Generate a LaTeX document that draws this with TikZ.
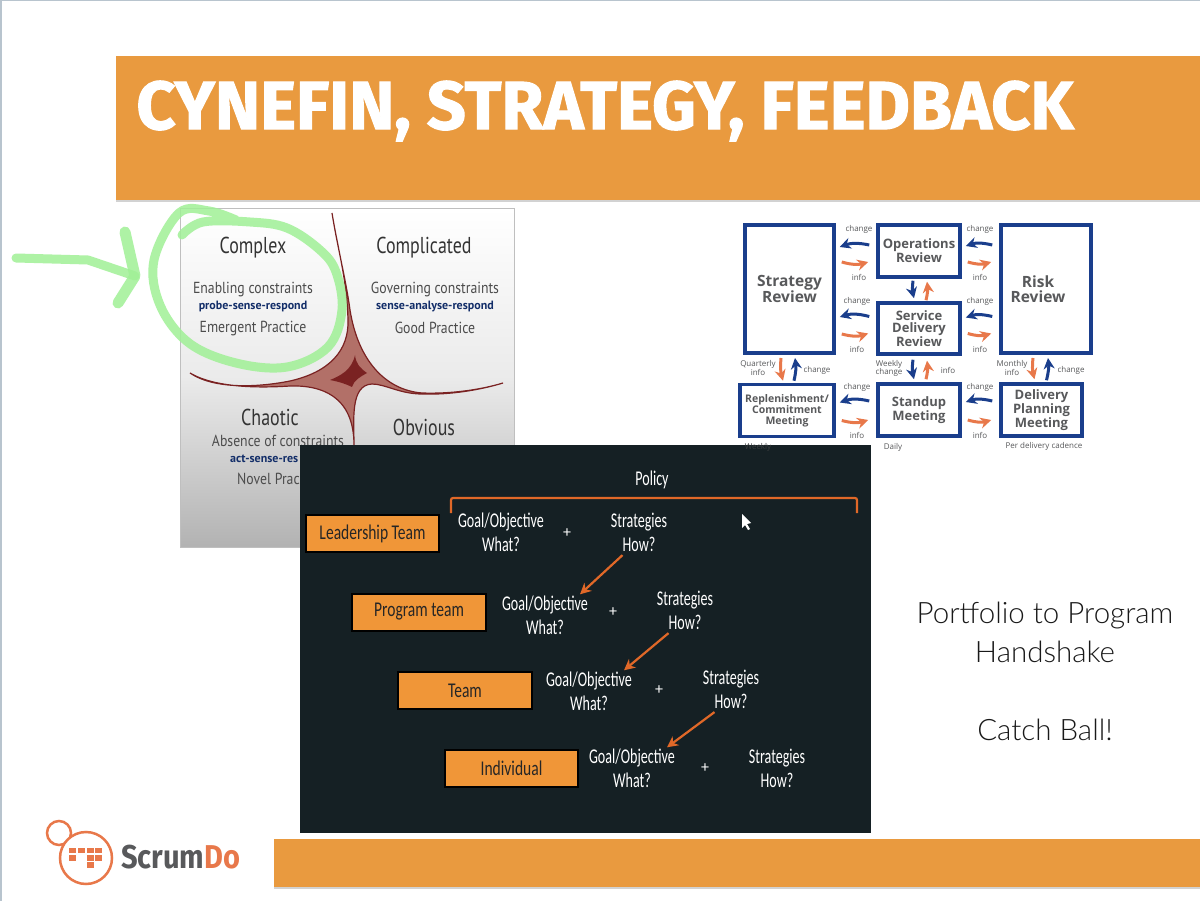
\documentclass[tikz,border=0pt]{standalone}
\usepackage{xcolor}
\usepackage{fontspec}
\setmainfont{Open Sans}
\newfontfamily\titlefont[BoldFeatures={FakeBold=1.6}]{Fira Sans}
\newfontfamily\brandfont{Fira Sans}
\newfontfamily\handfont{PT Sans}
\newfontfamily\panelfont{Carlito}
\newfontfamily\notefont{Lato Light}
\usepackage{tikz}
\usetikzlibrary{arrows.meta,positioning,shadows}
\definecolor{bannerorange}{RGB}{233,154,63}
\definecolor{panelblack}{RGB}{21,32,36}
\definecolor{boxorange}{RGB}{240,150,56}
\definecolor{rustorange}{RGB}{224,104,40}
\definecolor{reviewblue}{RGB}{26,62,140}
\definecolor{swooshorange}{RGB}{232,120,74}
\definecolor{labelgray}{RGB}{88,89,91}
\definecolor{scribblegreen}{RGB}{160,240,150}
\definecolor{cuspred}{RGB}{122,34,34}
\definecolor{cuspfill}{RGB}{178,112,104}
\definecolor{edgegray}{RGB}{184,196,206}
\newcommand{\pxfont}[2]{\fontsize{#1}{#2}\selectfont}
\tikzset{
  banner/.style={rectangle, fill=bannerorange, inner sep=0pt, drop shadow={shadow xshift=0pt, shadow yshift=-2pt, opacity=0.35}},
  reviewbox/.style={rectangle, draw=reviewblue, line width=3.5pt, fill=white, align=center, inner sep=0pt, text=labelgray, font=\pxfont{13}{12}\bfseries},
  smalllabel/.style={inner sep=0pt, align=center, text=labelgray, font=\pxfont{8}{8}},
  chgarrow/.style={-{Stealth[length=11pt,width=11pt]}, draw=reviewblue, line width=3pt},
  infoarrow/.style={-{Stealth[length=11pt,width=11pt]}, draw=swooshorange, line width=3pt},
  levelbox/.style={rectangle, draw=black, line width=2pt, fill=boxorange, inner sep=0pt, minimum width=180pt, minimum height=37pt, text=black!85, font=\panelfont\pxfont{21}{21}, xscale=0.74, transform shape},
  paneltext/.style={inner sep=0pt, text=white, text height=16pt, text depth=3pt, font=\panelfont\pxfont{21}{21}, xscale=0.67, transform shape},
  plusmark/.style={inner sep=0pt, text=white, font=\panelfont\pxfont{16}{16}},
  policyarrow/.style={-{Stealth[length=11pt,width=11pt]}, draw=rustorange, line width=2.2pt},
  cardhead/.style={inner sep=0pt, yshift=-2pt, text=black!80, font=\handfont\pxfont{23}{23}, xscale=0.78, transform shape},
  cardtext/.style={inner sep=0pt, yshift=-2pt, text=black!70, font=\handfont\pxfont{16}{16}, xscale=0.86, transform shape},
  cardcue/.style={inner sep=0pt, yshift=-1pt, text=reviewblue!75!black, font=\handfont\bfseries\pxfont{12}{12}},
  scribble/.style={draw=scribblegreen, line width=9pt, line cap=round, line join=round, opacity=0.85},
  tile/.style={fill=swooshorange, draw=none},
  notetext/.style={inner sep=0pt, align=center, text=black!90, font=\notefont\pxfont{29.5}{39}},
}
\begin{document}
\begin{tikzpicture}[x=1pt, y=-1pt, node distance=5pt]
  \useasboundingbox (0,0) rectangle (1200,901);
  \fill[white] (0,0) rectangle (1200,901);
  \fill[edgegray] (0,0) rectangle (1200,1.5);
  \fill[edgegray] (0,0) rectangle (2,901);

  % Title and footer bars
  \node[banner, minimum width=1084pt, minimum height=144pt] (titlebar) at (658,128) {};
  \node[banner, minimum width=926pt, minimum height=48pt] (footbar) at (737,863) {};
  \node[inner sep=0pt, text=white, font=\titlefont\bfseries\pxfont{68.2}{68}] (title) at (605,111) {CYNEFIN, STRATEGY, FEEDBACK};

  % Cynefin card
  \node[rectangle, minimum width=334pt, minimum height=339pt, inner sep=0pt, top color=white, bottom color=black!30, middle color=black!8, draw=black!25, line width=0.5pt] (card) at (347,377.5) {};
  \filldraw[draw=cuspred, fill=cuspfill, line width=1.2pt]
    (332,213) .. controls (338,250) and (347,280) .. (348,320)
    .. controls (349,350) and (330,372) .. (290,381)
    .. controls (260,387) and (215,390) .. (190,373)
    .. controls (215,388) and (260,388) .. (290,386)
    .. controls (320,385) and (354,395) .. (354,445)
    .. controls (354,420) and (350,385) .. (372,384)
    .. controls (385,384) and (400,394) .. (422,394)
    .. controls (450,395) and (480,390) .. (503,383)
    .. controls (480,390) and (450,394) .. (422,393)
    .. controls (385,390) and (358,360) .. (350,310)
    .. controls (346,280) and (338,250) .. (332,213) -- cycle;
  \fill[cuspred] (355,355) .. controls (356,364) and (360,368) .. (367,373)
    .. controls (360,377) and (354,380) .. (352,387)
    .. controls (346,384) and (340,382) .. (330,380)
    .. controls (340,376) and (352,370) .. (355,355) -- cycle;
  \node[cardhead] (complex) at (253,246) {Complex};
  \node[cardtext] (enabling) at (253,288) {Enabling constraints};
  \node[cardcue] (probe) at (253,306) {probe-sense-respond};
  \node[cardtext] (emergent) at (253,327) {Emergent Practice};
  \node[cardhead] (complicated) at (424,246) {Complicated};
  \node[cardtext] (governing) at (435,288) {Governing constraints};
  \node[cardcue] (sense) at (435,306) {sense-analyse-respond};
  \node[cardtext] (goodprac) at (435,326) {Good Practice};
  \node[cardhead] (chaotic) at (270,415) {Chaotic};
  \node[cardtext] (absence) at (278,439) {Absence of constraints};
  \node[cardcue, anchor=west] (act) at (230,458) {act-sense-res};
  \node[cardtext, anchor=west] (novel) at (237,477) {Novel Prac};
  \node[cardhead] (obvious) at (424,425) {Obvious};

  % Green marker
  \draw[scribble] plot[smooth, tension=0.6] coordinates {(182,235) (203,222) (250,222) (287,228) (320,250) (336,272) (342,310) (328,347) (287,367) (236,363) (189,343) (160,305) (154,260) (179,213) (209,211) (236,220)};
  \coordinate (markstart) at (16,258);
  \coordinate (marktip) at (135,276);
  \draw[scribble] (markstart) -- (88,260) -- (marktip);
  \draw[scribble, line width=11pt] (125,232) -- (marktip) -- (118,303);

  % Review boxes
  \node[reviewbox, minimum width=89pt, minimum height=128pt, font=\pxfont{15.5}{15}\bfseries] (strategy) at (789.5,289) {Strategy\\Review};
  \node[reviewbox, minimum width=82pt, minimum height=52pt] (ops) at (919,251) {Operations\\Review};
  \node[reviewbox, minimum width=82pt, minimum height=51pt] (service) at (919,328.5) {Service\\Delivery\\Review};
  \node[reviewbox, minimum width=90pt, minimum height=128pt] (risk) at (1046,289) {};
  \node[inner sep=0pt, align=center, text=labelgray, font=\pxfont{15.5}{15}\bfseries] (risktext) at (1038,289) {Risk\\Review};
  \node[reviewbox, minimum width=94pt, minimum height=52pt, font=\pxfont{10.5}{11}\bfseries] (replen) at (787,410.5) {Replenishment/\\Commitment\\Meeting};
  \node[reviewbox, minimum width=82pt, minimum height=52pt] (standup) at (919,410) {Standup\\Meeting};
  \node[reviewbox, minimum width=81pt, minimum height=52pt] (delivery) at (1041.5,410) {Delivery\\Planning\\Meeting};

  % Connections
  \draw[chgarrow] ([shift={(-7,-6)}]ops.west) to[bend right=16] ([shift={(4,-42)}]strategy.east);
  \draw[infoarrow] ([shift={(6,-27)}]strategy.east) to[bend right=16] ([shift={(-8,11)}]ops.west);
  \draw[chgarrow] ([shift={(-7,-6)}]risk.west |- ops.west) to[bend right=16] ([shift={(4,-5)}]ops.east);
  \draw[infoarrow] ([shift={(6,11)}]ops.east) to[bend right=16] ([shift={(-8,11)}]risk.west |- ops.west);
  \draw[chgarrow] ([shift={(-7,-12)}]service.west) to[bend right=16] ([shift={(4,28)}]strategy.east);
  \draw[infoarrow] ([shift={(6,45)}]strategy.east) to[bend right=16] ([shift={(-8,5)}]service.west);
  \draw[chgarrow] ([shift={(-7,-12)}]risk.west |- service.west) to[bend right=16] ([shift={(4,-11)}]service.east);
  \draw[infoarrow] ([shift={(6,5)}]service.east) to[bend right=16] ([shift={(-8,5)}]risk.west |- service.west);
  \draw[chgarrow] ([shift={(-7,-9)}]standup.west) to[bend right=16] ([shift={(4,-8)}]replen.east);
  \draw[infoarrow] ([shift={(6,10)}]replen.east) to[bend right=16] ([shift={(-8,10)}]standup.west);
  \draw[chgarrow] ([shift={(-7,-9)}]delivery.west) to[bend right=16] ([shift={(4,-8)}]standup.east);
  \draw[infoarrow] ([shift={(6,10)}]standup.east) to[bend right=16] ([shift={(-8,10)}]delivery.west);
  \draw[chgarrow] ([shift={(-6,2)}]ops.south) to[bend right=10] ([shift={(-5,-3)}]service.north);
  \draw[infoarrow] ([shift={(7,-1)}]service.north) to[bend right=10] ([shift={(8,3)}]ops.south);
  \draw[chgarrow] ([shift={(-6,4)}]service.south) to[bend right=10] ([shift={(-5,-3)}]standup.north);
  \draw[infoarrow] ([shift={(7,-3)}]standup.north) to[bend right=10] ([shift={(8,5)}]service.south);
  \draw[infoarrow] (781,358) to[bend right=10] ([xshift=-4pt,yshift=2pt]replen.north);
  \draw[chgarrow] ([shift={(7,-2)}]replen.north) to[bend right=10] (795,358);
  \draw[infoarrow] (1033,358) to[bend right=10] ([shift={(-7,-3)}]delivery.north);
  \draw[chgarrow] ([shift={(5,-2)}]delivery.north) to[bend right=10] (1048,358);

  % Arrow labels
  \node[smalllabel] (chga) at (859,229) {change};
  \node[smalllabel] (infoa) at (859,277) {info};
  \node[smalllabel] (chgb) at (980,229) {change};
  \node[smalllabel] (infob) at (980,277) {info};
  \node[smalllabel] (chgc) at (857,301) {change};
  \node[smalllabel] (infoc) at (857,349) {info};
  \node[smalllabel] (chgd) at (980,301) {change};
  \node[smalllabel] (infod) at (980,349) {info};
  \node[smalllabel] (chge) at (857,387) {change};
  \node[smalllabel] (infoe) at (857,435) {info};
  \node[smalllabel] (chgf) at (980,387) {change};
  \node[smalllabel] (infof) at (980,435) {info};
  \node[smalllabel] (quarterly) at (758,368) {Quarterly\\info};
  \node[smalllabel] (chgg) at (817,370) {change};
  \node[smalllabel] (weeklychg) at (889,368) {Weekly\\change};
  \node[smalllabel] (infog) at (948,370) {info};
  \node[smalllabel] (monthly) at (1012,368) {Monthly\\info};
  \node[smalllabel] (chgh) at (1071,370) {change};
  \node[smalllabel] (daily) at (893,447) {Daily};
  \node[smalllabel] (cadence) at (1044,446.5) {Per delivery cadence};

  % Dark panel
  \node[rectangle, fill=panelblack, minimum width=571pt, minimum height=388pt, inner sep=0pt] (panel) at (585.5,639) {};
  \node[smalllabel, text=black!65!panelblack!80!white] (weekly) at (758,447) {Weekly};
  \node[paneltext] (policy) at (652,479) {Policy};
  \coordinate (bracea) at (451,513);
  \coordinate (braceb) at (857,513);
  \draw[draw=rustorange, line width=2.2pt, rounded corners=2pt] (bracea) |- (654,498) -| (braceb);
  \fill[white] (742,514) -- (742,528) -- (745,525) -- (748,530) -- (750,529) -- (747,524) -- (751,523) -- cycle;

  % Leadership row
  \node[levelbox] (leader) at (372.5,533.5) {Leadership Team};
  \node[paneltext] (goala) at (501,521) {Goal/Objective};
  \node[paneltext, below=of goala] (whata) {What?};
  \node[plusmark] (plusa) at (567,533) {+};
  \node[paneltext] (strata) at (639,521) {Strategies};
  \node[paneltext, below=of strata] (howa) {How?};

  % Program row
  \node[levelbox] (program) at (419,612) {Program team};
  \node[paneltext] (goalb) at (545,604) {Goal/Objective};
  \node[paneltext, below=of goalb] (whatb) {What?};
  \node[plusmark] (plusb) at (613,612) {+};
  \node[paneltext] (stratb) at (685,599) {Strategies};
  \node[paneltext, below=of stratb] (howb) {How?};

  % Team row
  \node[levelbox] (team) at (465,690.5) {Team};
  \node[paneltext] (goalc) at (589,680) {Goal/Objective};
  \node[paneltext, below=of goalc] (whatc) {What?};
  \node[plusmark] (plusc) at (659,690) {+};
  \node[paneltext] (stratc) at (731,678) {Strategies};
  \node[paneltext, below=of stratc] (howc) {How?};

  % Individual row
  \node[levelbox] (individual) at (511.5,768.5) {Individual};
  \node[paneltext] (goald) at (632,757) {Goal/Objective};
  \node[paneltext, below=of goald] (whatd) {What?};
  \node[plusmark] (plusd) at (705,768) {+};
  \node[paneltext] (stratd) at (777,757) {Strategies};
  \node[paneltext, below=of stratd] (howd) {How?};

  \draw[policyarrow] (howa.south west) -- ([xshift=-8pt]goalb.north east);
  \draw[policyarrow] (howb.south west) -- ([xshift=-8pt]goalc.north east);
  \draw[policyarrow] (howc.south west) -- ([xshift=-8pt]goald.north east);

  % Side note
  \node[notetext] (handshake) at (1045,632.5) {Portfolio to Program\\Handshake};
  \node[notetext] (catchball) at (1045,730) {Catch Ball!};

  % Logo
  \draw[draw=swooshorange, line width=2.5pt] (59,833) circle (12);
  \node[circle, draw=swooshorange, fill=white, line width=2.5pt, minimum size=52pt, inner sep=0pt] (logo) at (86,858) {};
  \fill[tile] (69,848) rectangle (76,853);
  \fill[tile] (78,848) rectangle (85,853);
  \fill[tile] (87,848) rectangle (94,853);
  \fill[tile] (95,848) rectangle (102,853);
  \fill[tile] (69,855) rectangle (76,861);
  \fill[tile] (87,855) rectangle (94,861);
  \fill[tile] (95,855) rectangle (102,861);
  \fill[tile] (87,862) rectangle (94,868);
  \node[inner sep=0pt, anchor=west, text=labelgray, font=\brandfont\bfseries\pxfont{33}{33}, xscale=0.88, transform shape] (brand) at (121,857) {Scrum\textcolor{swooshorange}{Do}};
\end{tikzpicture}
\end{document}
